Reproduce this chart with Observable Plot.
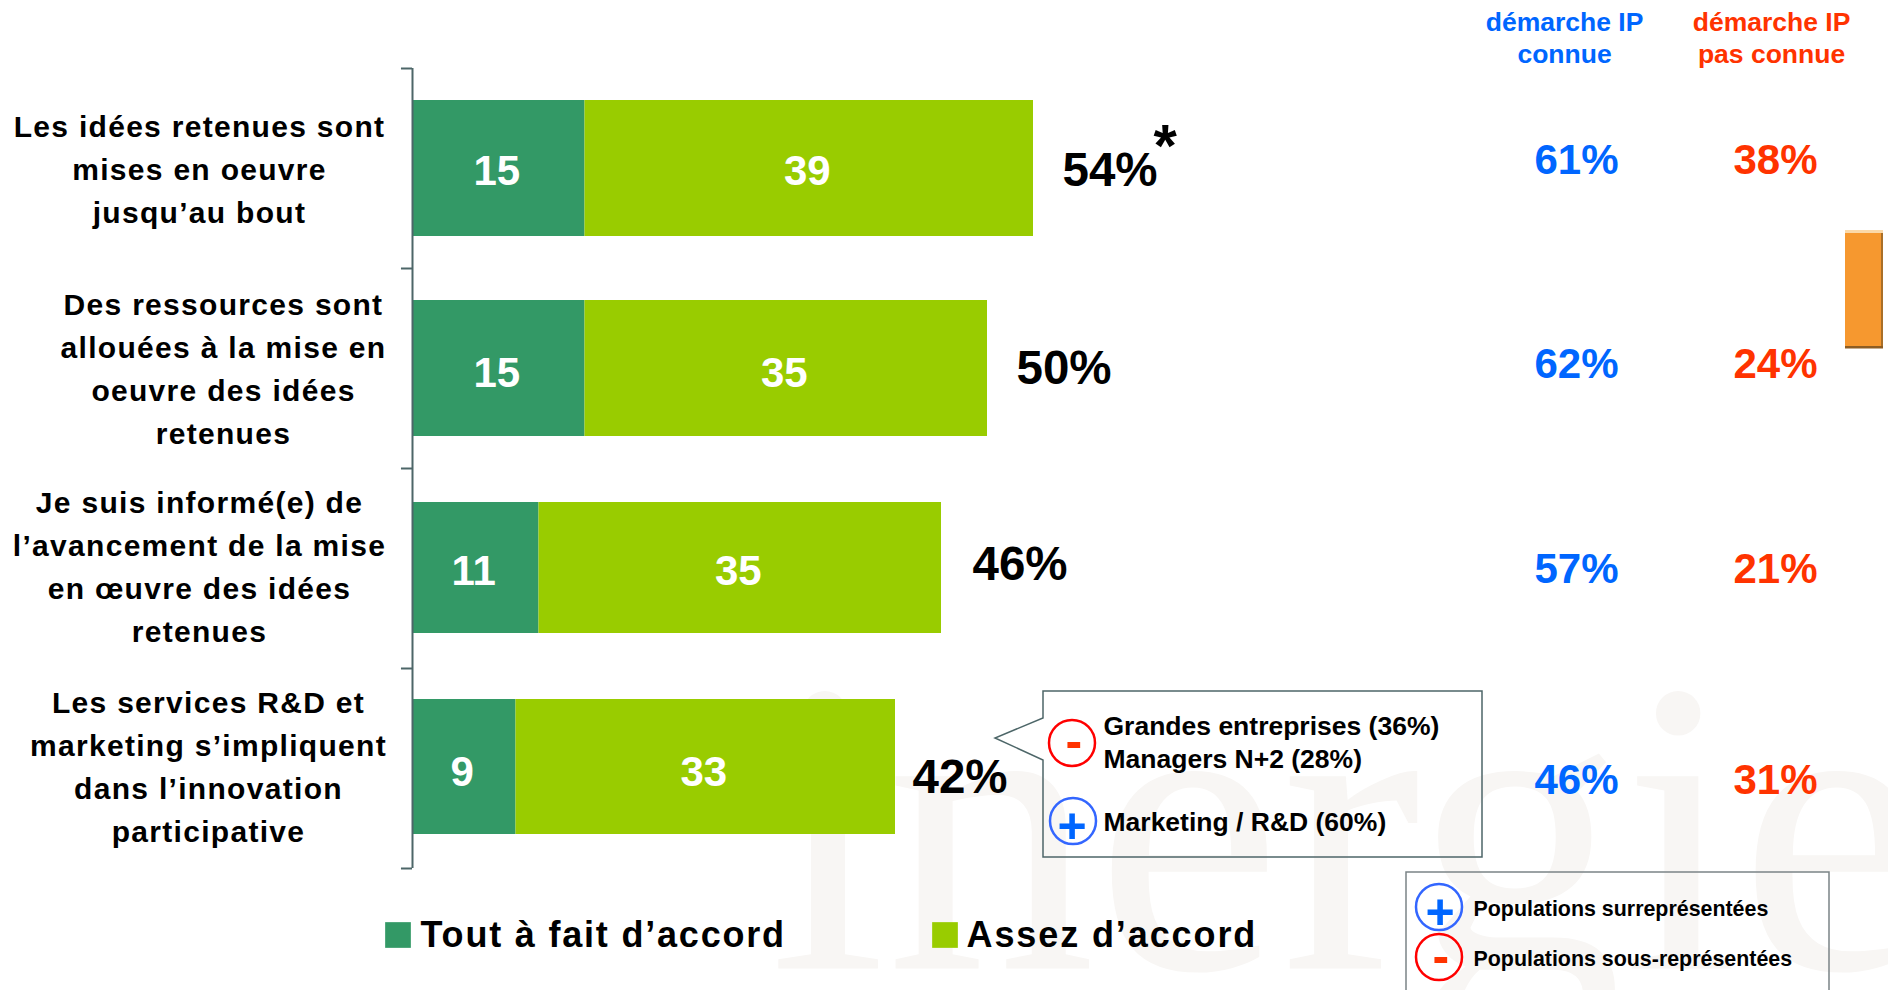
<!DOCTYPE html>
<html lang="fr">
<head>
<meta charset="utf-8">
<title>Innovation participative</title>
<script src="https://cdn.jsdelivr.net/npm/d3@7"></script>
<script src="https://cdn.jsdelivr.net/npm/@observablehq/plot@0.6"></script>
<style>
  html, body { margin: 0; background: #fff; }
  svg { display: block; }
</style>
</head>
<body>
<div id="chart"></div>
<script>
// Survey answers per statement
const categories = [
  "Les idées retenues sont\nmises en oeuvre\njusqu’au bout",
  "Des ressources sont\nallouées à la mise en\noeuvre des idées\nretenues",
  "Je suis informé(e) de\nl’avancement de la mise\nen œuvre des idées\nretenues",
  "Les services R&D et\nmarketing s’impliquent\ndans l’innovation\nparticipative"
];
const seriesNames = ["Tout à fait d’accord", "Assez d’accord"];
const toutAFait = [15, 15, 11, 9];
const assez = [39, 35, 35, 33];
const totals = [54, 50, 46, 42];
const ipConnue = [61, 62, 57, 46];
const ipPasConnue = [38, 24, 21, 31];

const DARK = "#339966", LIME = "#99cc00", BLUE = "#0066ff", RED = "#ff3300", AXIS = "#4d6668";
const font = "Liberation Sans, Arial, sans-serif";

const long = categories.flatMap((c, i) => [
  {category: c, series: seriesNames[0], value: toutAFait[i]},
  {category: c, series: seriesNames[1], value: assez[i]}
]);

// Per-row hand placement of bars and labels, relative to each band
const barInsetTop = [0, 0, 2, -1];
const barInsetBottom = [0, 0, 3, 2];
const labelCentre = [199, 223, 199, 208];
const labelBaseline = [54, 75, 73, 73];
const totalGap = [29, 29, 31, 17];
const totalBaseline = [17, 15, 11, 24];
const valueBaseline = [16, 18, 16, 17];
const columnBaseline = [5, 9, 14, 25];

// Widens the tracking of every text drawn by a mark
const tracked = (px) => ({
  render(index, scales, values, dimensions, context, next) {
    const g = next(index, scales, values, dimensions, context);
    g.style.letterSpacing = px;
    return g;
  }
});

// Free-standing text placed from the top-left corner of the frame
const note = (text, x, y, o = {}) => Plot.text([text], {
  text: d => d, frameAnchor: "top-left", dx: x, dy: y, lineAnchor: "bottom",
  fontFamily: font, fontWeight: "bold", fill: "black", textAnchor: "start", ...o
});

// Tab, callout and key frames drawn straight on the frame
const decorations = () => {
  const g = d3.create("svg:g");
  g.append("rect").attr("x", 1845).attr("y", 230).attr("width", 38).attr("height", 3).attr("fill", "#fbd9a9");
  g.append("rect").attr("x", 1845).attr("y", 233).attr("width", 38).attr("height", 113).attr("fill", "#f6982f");
  g.append("rect").attr("x", 1881).attr("y", 233).attr("width", 2).attr("height", 113).attr("fill", "#a96f28");
  g.append("rect").attr("x", 1845).attr("y", 346).attr("width", 38).attr("height", 2.5).attr("fill", "#8d5c22");
  g.append("path")
    .attr("d", "M1043 691H1482V857H1043V760L995 738L1043 718Z")
    .attr("fill", "none").attr("stroke", AXIS).attr("stroke-width", 1.5);
  g.append("path")
    .attr("d", "M1406 990V872H1829V990")
    .attr("fill", "none").attr("stroke", "#7b8486").attr("stroke-width", 1.5);
  const rings = [[1072, 743, "#ff0000"], [1073, 821, "#3366ff"], [1439, 907, "#3366ff"], [1439, 957, "#ff0000"]];
  for (const [cx, cy, c] of rings) {
    g.append("circle").attr("cx", cx).attr("cy", cy).attr("r", 23)
      .attr("fill", "none").attr("stroke", c).attr("stroke-width", 2.5);
  }
  return g.node();
};

const bars = Plot.plot({
  width: 1888,
  height: 990,
  margin: 0,
  style: {background: "#fff", fontFamily: font},
  x: {domain: [0, 1476 / 11.5], range: [412, 1888], axis: null},
  y: {domain: categories, range: [68, 868], paddingInner: 0.32, paddingOuter: 0.16, axis: null},
  color: {domain: seriesNames, range: [DARK, LIME]},
  marks: [
    // Faint company wordmark behind everything
    note("inergie", 769, 968, {fontFamily: "Liberation Serif, serif", fontWeight: "normal", fontSize: 419, fill: "#f8f6f4"}),
    decorations,

    // One group of bars and row labels per statement, each with its own offsets
    ...categories.flatMap((c, i) => [
      Plot.barX(long.filter(d => d.category === c), {
        x: "value", y: "category", fill: "series", insetTop: barInsetTop[i], insetBottom: barInsetBottom[i]
      }),
      Plot.text([c], {
        y: d => d, text: d => d, frameAnchor: "left", dx: labelCentre[i], dy: labelBaseline[i],
        lineAnchor: "bottom", lineHeight: 1.433, textAnchor: "middle",
        fontSize: 30, fontWeight: "bold", fill: "black", ...tracked("1.3px")
      }),
      Plot.text(long.filter(d => d.category === c), Plot.stackX({
        x: "value", y: "category", text: "value", dx: -2, dy: valueBaseline[i], lineAnchor: "bottom",
        fontSize: 42, fontWeight: "bold", fill: "white"
      })),
      Plot.text([totals[i]], {
        x: d => d, y: () => c, text: d => `${d}%`, dx: totalGap[i], dy: totalBaseline[i],
        lineAnchor: "bottom", textAnchor: "start", fontSize: 47.5, fontWeight: "bold", fill: "black"
      }),
      Plot.text([ipConnue[i]], {
        y: () => c, text: d => `${d}%`, frameAnchor: "left", dx: 1576, dy: columnBaseline[i],
        lineAnchor: "bottom", textAnchor: "middle", fontSize: 42, fontWeight: "bold", fill: BLUE
      }),
      Plot.text([ipPasConnue[i]], {
        y: () => c, text: d => `${d}%`, frameAnchor: "left", dx: 1775, dy: columnBaseline[i],
        lineAnchor: "bottom", textAnchor: "middle", fontSize: 42, fontWeight: "bold", fill: RED
      })
    ]),

    // Axis line with ticks on the band edges
    Plot.ruleX([0], {y1: () => categories[0], y2: () => categories[3], stroke: AXIS, strokeWidth: 2, insetTop: -32, insetBottom: -32}),
    Plot.ruleY(categories, {x1: -0.96, x2: 0, stroke: AXIS, strokeWidth: 2, dy: -100}),
    Plot.ruleY([categories[3]], {x1: -0.96, x2: 0, stroke: AXIS, strokeWidth: 2, dy: 100}),

    note("*", 1153, 165, {fontSize: 60}),

    // Column headers
    note("démarche IP\nconnue", 1564, 62, {textAnchor: "middle", fontSize: 26.5, lineHeight: 1.19, fill: BLUE}),
    note("démarche IP\npas connue", 1771, 62, {textAnchor: "middle", fontSize: 26.5, lineHeight: 1.19, fill: RED}),

    // Callout
    note("-", 1065, 757, {fontSize: 50, fill: RED}),
    note("+", 1057, 842, {fontSize: 50, fill: BLUE}),
    note("Grandes entreprises (36%)", 1103, 734, {fontSize: 26.5}),
    note("Managers N+2 (28%)", 1103, 767, {fontSize: 26.5}),
    note("Marketing / R&D (60%)", 1103, 830, {fontSize: 26.5}),

    // Key for over- and under-represented populations
    note("+", 1425, 928, {fontSize: 50, fill: BLUE}),
    note("-", 1432, 972, {fontSize: 50, fill: RED}),
    note("Populations surreprésentées", 1473, 915, {fontSize: 21.4}),
    note("Populations sous-représentées", 1473, 965, {fontSize: 21.4}),

    // Series legend
    note(seriesNames[0], 420, 946, {fontSize: 36, ...tracked("1.8px")}),
    note(seriesNames[1], 966, 946, {fontSize: 36, ...tracked("1.9px")}),
    Plot.dot([seriesNames[0]], {fill: d => d, symbol: "square", r: 14.5, frameAnchor: "top-left", dx: 397.5, dy: 934.5}),
    Plot.dot([seriesNames[1]], {fill: d => d, symbol: "square", r: 14.5, frameAnchor: "top-left", dx: 944.5, dy: 934.5})
  ]
});
document.getElementById("chart").append(bars);
</script>
</body>
</html>
